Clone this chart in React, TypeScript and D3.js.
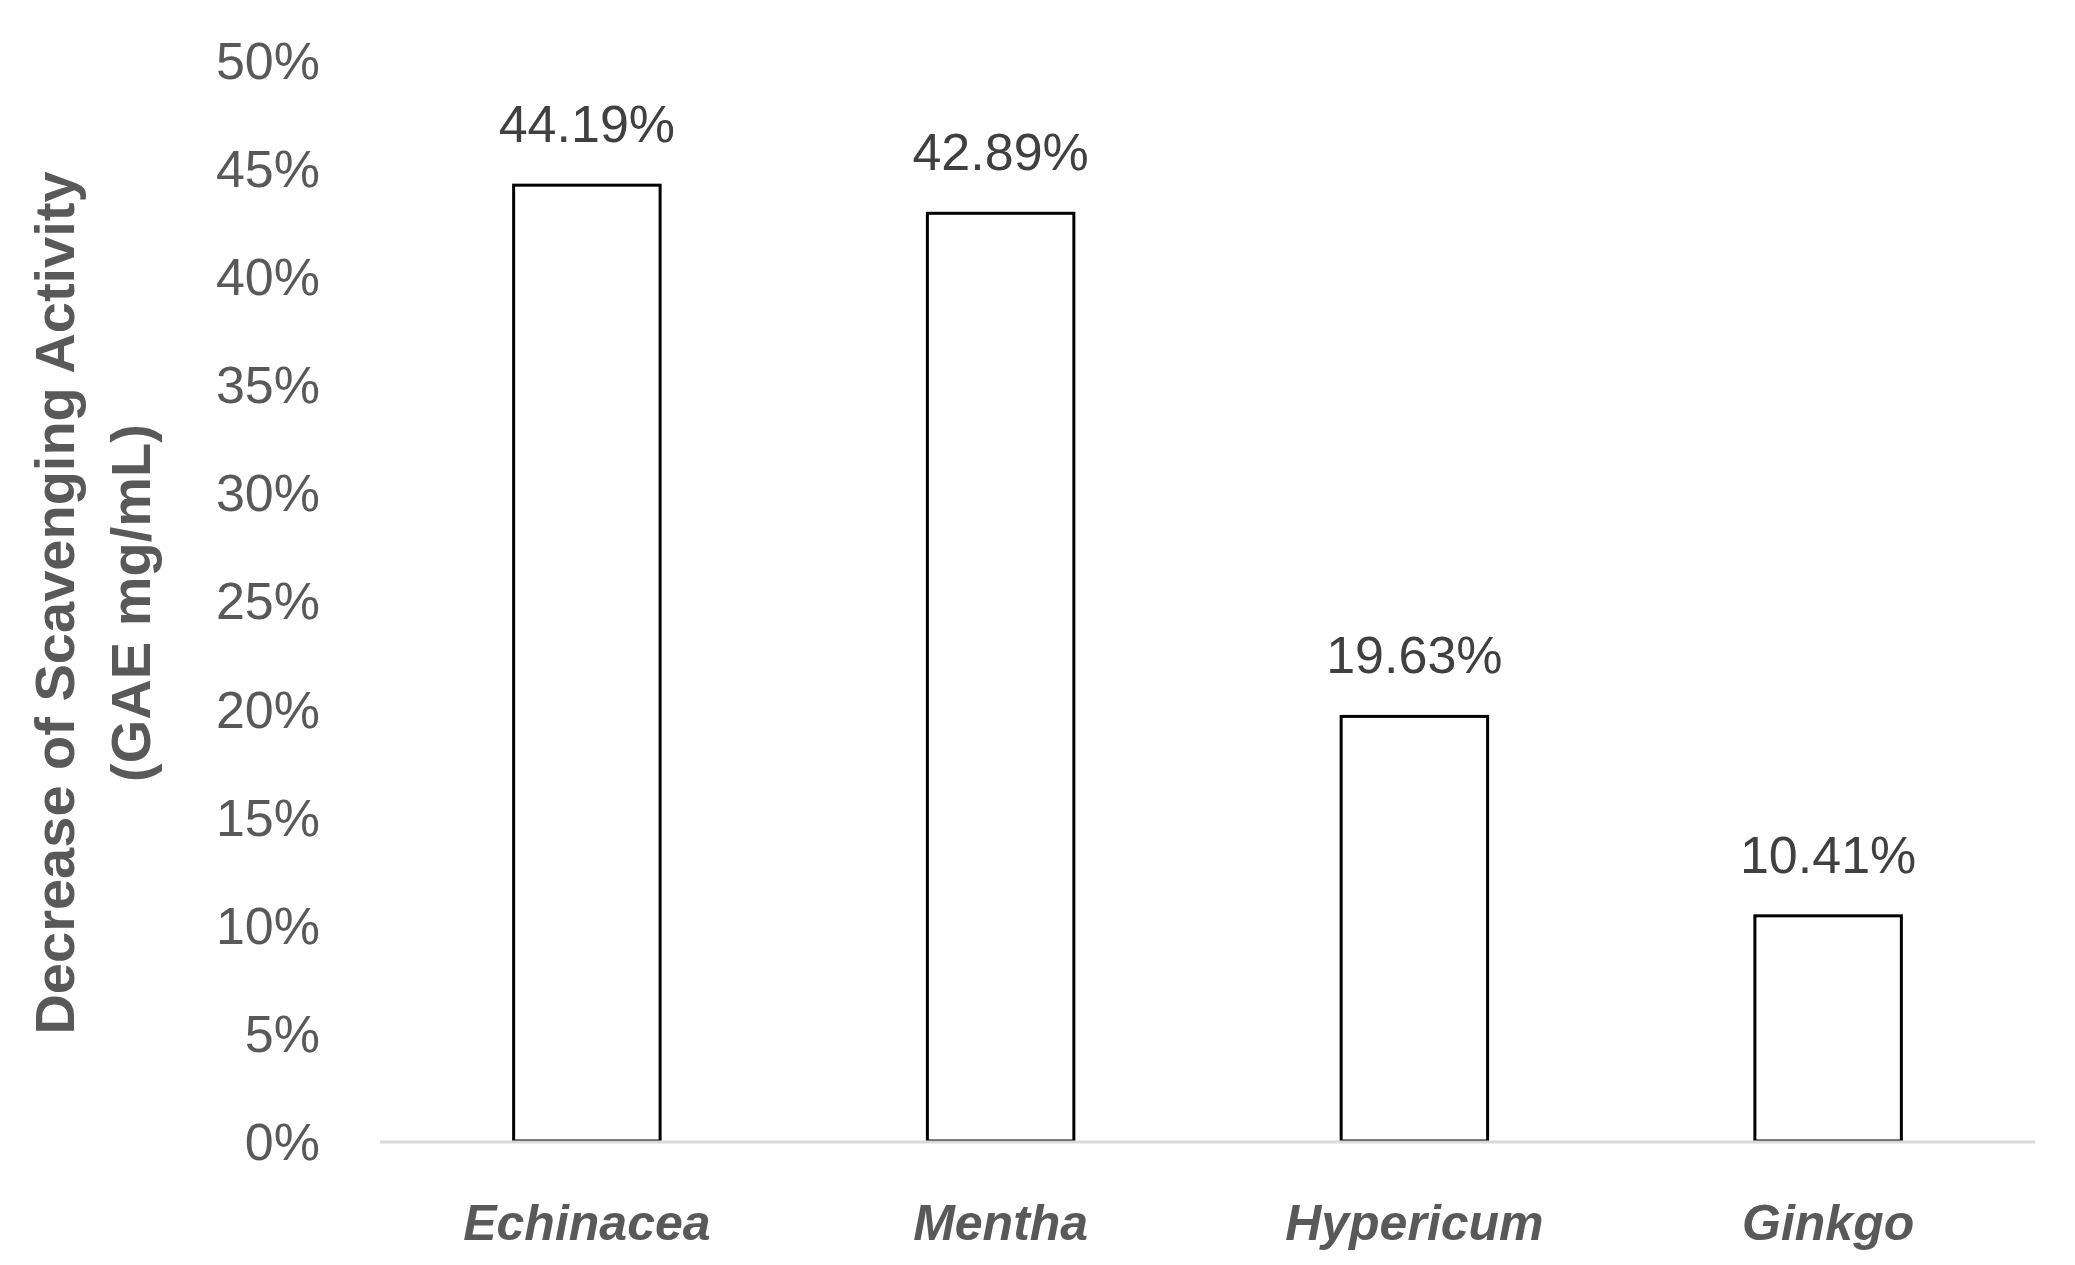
import React, { useRef, useEffect } from "react";
import * as d3 from "d3";

const categories = ["Echinacea", "Mentha", "Hypericum", "Ginkgo"];
const values = [0.4419, 0.4289, 0.1963, 0.1041];
const valueLabels = ["44.19%", "42.89%", "19.63%", "10.41%"];
const yTicks = [0, 0.05, 0.1, 0.15, 0.2, 0.25, 0.3, 0.35, 0.4, 0.45, 0.5];
const yTitle = ["Decrease of Scavenging Activity", "(GAE mg/mL)"];

const W = 2075;
const H = 1265;

function BarChart() {
  const ref = useRef<SVGSVGElement>(null);

  useEffect(() => {
    document.body.style.margin = "0";
    const svg = d3.select(ref.current);
    svg.selectAll("*").remove();

    const x = d3.scaleBand().domain(categories).range([380, 2035]).padding(0);
    const y = d3.scaleLinear().domain([0, 0.5]).range([1141, 59.5]);
    const barW = x.bandwidth() * 0.354;
    const font = "'Liberation Sans', Arial, sans-serif";

    // y tick labels
    const yAxis = svg
      .append("g")
      .attr("transform", "translate(344,0)")
      .call(
        d3
          .axisLeft(y)
          .tickValues(yTicks)
          .tickSize(0)
          .tickPadding(24)
          .tickFormat(d3.format(".0%"))
      );
    yAxis.select(".domain").remove();
    yAxis
      .selectAll("text")
      .attr("fill", "#595959")
      .attr("font-family", font)
      .attr("font-size", 52)
      .attr("dy", "0.36em");

    // bars
    svg
      .append("g")
      .selectAll("rect")
      .data(values)
      .join("rect")
      .attr("x", (d, i) => x(categories[i])! + x.bandwidth() / 2 - barW / 2)
      .attr("y", (d) => y(d))
      .attr("width", barW)
      .attr("height", (d) => y(0) - y(d))
      .attr("fill", "white")
      .attr("stroke", "black")
      .attr("stroke-width", 3);

    // baseline
    svg
      .append("line")
      .attr("x1", x.range()[0])
      .attr("x2", x.range()[1])
      .attr("y1", y(0) + 1)
      .attr("y2", y(0) + 1)
      .attr("stroke", "#d9d9d9")
      .attr("stroke-width", 3);

    // value labels
    svg
      .append("g")
      .selectAll("text")
      .data(values)
      .join("text")
      .attr("x", (d, i) => x(categories[i])! + x.bandwidth() / 2)
      .attr("y", (d) => y(d) - 43)
      .attr("text-anchor", "middle")
      .attr("fill", "#404040")
      .attr("font-family", font)
      .attr("font-size", 52)
      .text((d, i) => valueLabels[i]);

    // category labels
    svg
      .append("g")
      .selectAll("text")
      .data(categories)
      .join("text")
      .attr("x", (d) => x(d)! + x.bandwidth() / 2)
      .attr("y", 1240)
      .attr("text-anchor", "middle")
      .attr("fill", "#595959")
      .attr("font-family", font)
      .attr("font-size", 50)
      .attr("font-weight", "bold")
      .attr("font-style", "italic")
      .text((d) => d);

    // y title
    const title = svg
      .append("text")
      .attr("transform", "translate(0,603) rotate(-90)")
      .attr("text-anchor", "middle")
      .attr("fill", "#595959")
      .attr("font-family", font)
      .attr("font-size", 56)
      .attr("font-weight", "bold");
    title.append("tspan").attr("x", 0).attr("y", 74).text(yTitle[0]);
    title.append("tspan").attr("x", 0).attr("y", 150).text(yTitle[1]);
  }, []);

  return <svg ref={ref} width={W} height={H} style={{ display: "block", background: "white" }}></svg>;
}

export default function App() {
  return <BarChart />;
}
